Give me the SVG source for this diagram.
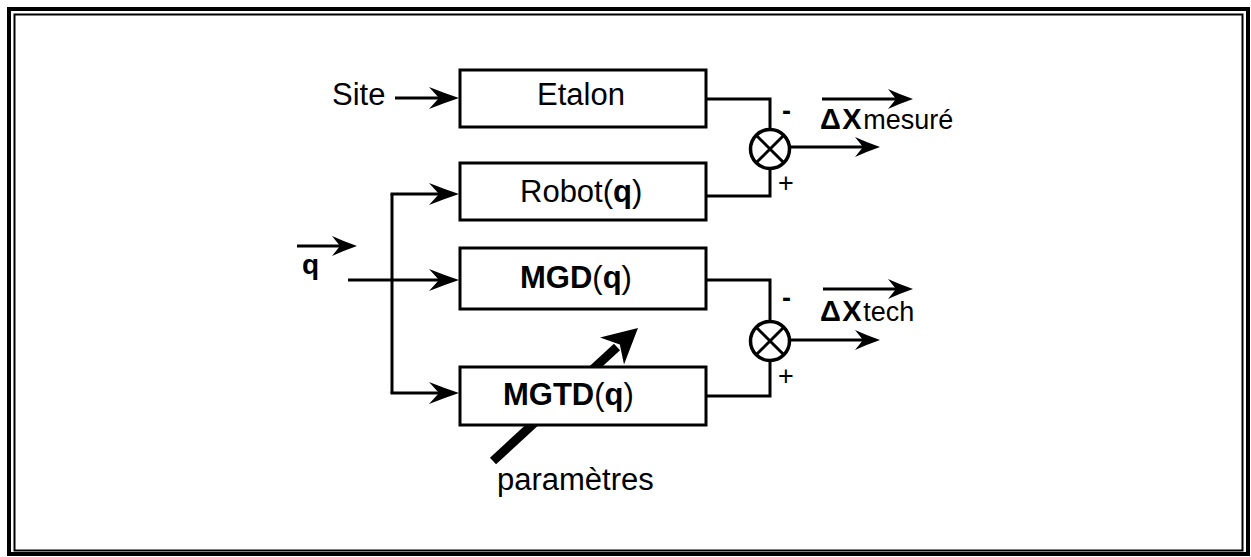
<svg xmlns="http://www.w3.org/2000/svg" width="1251" height="557" viewBox="0 0 1251 557">
<style>
.bx{fill:#fff;stroke:#000;stroke-width:3}
.ln{fill:none;stroke:#000;stroke-width:3}
.t{font-family:"Liberation Sans",Arial,Helvetica,sans-serif;font-size:31px;fill:#000}
.s{font-family:"Liberation Sans",Arial,Helvetica,sans-serif;font-size:27px;fill:#000}
.b{font-weight:bold}
.dx{font-weight:bold;font-size:29px;letter-spacing:1.5px}
.sum{fill:#fff;stroke:#000;stroke-width:3.5}
</style>
<defs>
<marker id="arr" markerUnits="userSpaceOnUse" viewBox="0 0 30 22" refX="18" refY="11" markerWidth="30" markerHeight="22" orient="auto">
<path d="M30,11 Q15,6 0,0 L10,11 L0,22 Q15,16 30,11 Z" fill="#000"/>
</marker>
<marker id="arrS" markerUnits="userSpaceOnUse" viewBox="0 0 25 20" refX="14" refY="10" markerWidth="25" markerHeight="20" orient="auto">
<path d="M25,10 Q12,5.5 0,0 L8,10 L0,20 Q12,14.5 25,10 Z" fill="#000"/>
</marker>
</defs>
<rect width="1251" height="557" fill="#fff"/>
<g id="frame" fill="none" stroke="#000">
<rect x="9" y="9" width="1239" height="545" stroke-width="4"/>
<rect x="14.5" y="14.5" width="1228" height="536" stroke-width="2"/>
</g>
<g id="param-arrow">
<line x1="493" y1="461" x2="617" y2="347" stroke="#000" stroke-width="9"/>
<path d="M638,328 L624,364.5 L619.8,344.4 L600,337.5 Z" fill="#000"/>
</g>
<g id="connectors">
<line class="ln" x1="395" y1="98" x2="447" y2="98" marker-end="url(#arr)"/>
<line class="ln" x1="348" y1="280" x2="447" y2="280" marker-end="url(#arr)"/>
<line class="ln" x1="392" y1="194" x2="392" y2="393"/>
<line class="ln" x1="390.5" y1="194" x2="447" y2="194" marker-end="url(#arr)"/>
<line class="ln" x1="390.5" y1="393" x2="447" y2="393" marker-end="url(#arr)"/>
<polyline class="ln" points="706,99 770,99 770,129"/>
<polyline class="ln" points="706,196 770,196 770,169"/>
<line class="ln" x1="790" y1="147" x2="869" y2="147" marker-end="url(#arrS)"/>
<polyline class="ln" points="706,280 770,280 770,321"/>
<polyline class="ln" points="706,396 770,396 770,361"/>
<line class="ln" x1="790" y1="340" x2="869" y2="340" marker-end="url(#arrS)"/>
</g>
<g id="node-etalon">
<rect class="bx" x="460" y="70" width="246" height="57"/>
<text class="t" x="537" y="105">Etalon</text>
</g>
<g id="node-robot">
<rect class="bx" x="460" y="163" width="246" height="57"/>
<text class="t" x="520" y="202">Robot(<tspan class="b">q</tspan>)</text>
</g>
<g id="node-mgd">
<rect class="bx" x="460" y="248" width="246" height="61"/>
<text class="t" x="520" y="288"><tspan class="b">MGD</tspan>(<tspan class="b">q</tspan>)</text>
</g>
<g id="node-mgtd">
<rect class="bx" x="460" y="367" width="246" height="58"/>
<text class="t" x="503" y="405"><tspan class="b">MGTD</tspan>(<tspan class="b">q</tspan>)</text>
</g>
<g id="node-sum1">
<circle class="sum" cx="770" cy="149" r="19.5"/>
<path class="ln" d="M756.2,135.2 L783.8,162.8 M783.8,135.2 L756.2,162.8" stroke-width="3.5"/>
<text class="s b" x="782" y="120">-</text>
<text class="s" x="786" y="192" text-anchor="middle">+</text>
</g>
<g id="node-sum2">
<circle class="sum" cx="770" cy="341" r="19.5"/>
<path class="ln" d="M756.2,327.2 L783.8,354.8 M783.8,327.2 L756.2,354.8" stroke-width="3.5"/>
<text class="s b" x="782" y="307">-</text>
<text class="s" x="786" y="385" text-anchor="middle">+</text>
</g>
<g id="label-site">
<text class="t" x="332" y="105">Site</text>
</g>
<g id="label-q">
<line class="ln" x1="297" y1="246" x2="346" y2="246" marker-end="url(#arrS)"/>
<text class="t b" x="302" y="274" style="font-size:28px">q</text>
</g>
<g id="label-dx-mesure">
<line class="ln" x1="822" y1="99" x2="902" y2="99" marker-end="url(#arrS)"/>
<text class="s" x="820" y="129"><tspan class="dx">ΔX</tspan>mesuré</text>
</g>
<g id="label-dx-tech">
<line class="ln" x1="823" y1="289" x2="902" y2="289" marker-end="url(#arrS)"/>
<text class="s" x="820" y="321"><tspan class="dx">ΔX</tspan>tech</text>
</g>
<g id="label-param">
<text class="t" x="497" y="490">paramètres</text>
</g>
</svg>
